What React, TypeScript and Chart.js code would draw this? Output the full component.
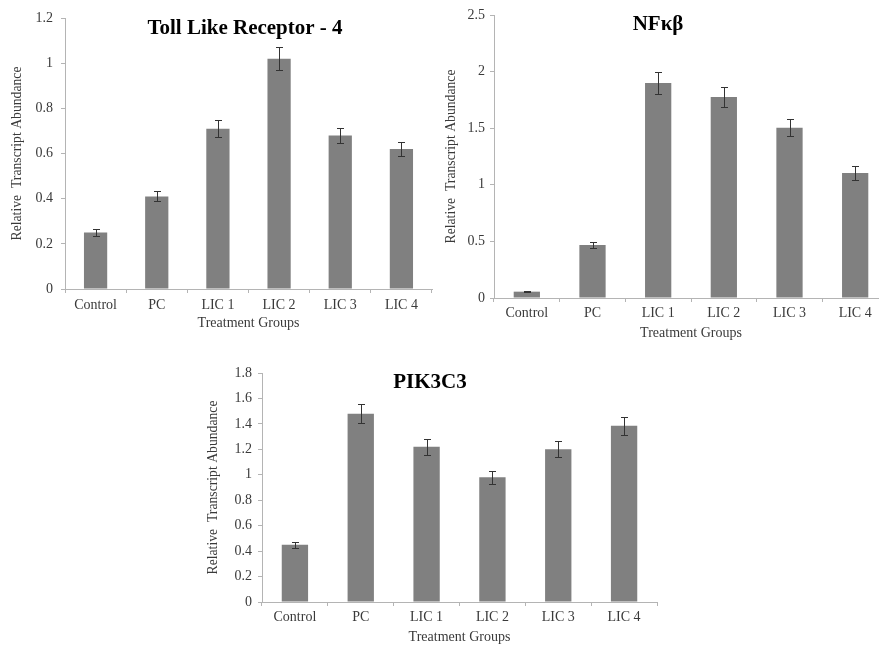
import React, { useEffect, useRef } from "react";
import { Chart, registerables } from "chart.js";

Chart.register(...registerables);

// ---------- data ----------
const categories = ["Control", "PC", "LIC 1", "LIC 2", "LIC 3", "LIC 4"];

const tlr4Values = [0.25, 0.41, 0.71, 1.02, 0.68, 0.62];
const tlr4Errors = [0.015, 0.022, 0.037, 0.05, 0.035, 0.031];
const tlr4Ticks = ["0", "0.2", "0.4", "0.6", "0.8", "1", "1.2"];

const nfkbValues = [0.056, 0.468, 1.9, 1.775, 1.505, 1.105];
const nfkbErrors = [0.005, 0.028, 0.1, 0.092, 0.077, 0.059];
const nfkbTicks = ["0", "0.5", "1", "1.5", "2", "2.5"];

const pikValues = [0.45, 1.48, 1.22, 0.98, 1.2, 1.385];
const pikErrors = [0.025, 0.073, 0.062, 0.05, 0.063, 0.073];
const pikTicks = ["0", "0.2", "0.4", "0.6", "0.8", "1", "1.2", "1.4", "1.6", "1.8"];

const titles = ["Toll Like Receptor - 4", "NF\u03BA\u03B2", "PIK3C3"];
const yAxisTitle = "Relative  Transcript Abundance";
const xAxisTitle = "Treatment Groups";

// ---------- styles ----------
const FONT = "'Liberation Serif', 'Times New Roman', serif";
const AXIS_COLOR = "#b4b4b4";
const TEXT_COLOR = "#3a3a3a";
const BAR_COLOR = "#808080";
const ERR_COLOR = "#333333";

const errorBarsPlugin = {
  id: "errorBars",
  afterDatasetsDraw(chart: any, _args: any, opts: any) {
    const errs: number[] = opts.errors || [];
    const meta = chart.getDatasetMeta(0);
    const ys = chart.scales.y;
    const vals = chart.data.datasets[0].data as number[];
    const ctx = chart.ctx;
    ctx.save();
    ctx.strokeStyle = opts.color || "#333";
    ctx.lineWidth = 1;
    const cap = opts.cap ?? 3.5;
    meta.data.forEach((bar: any, i: number) => {
      const v = vals[i];
      const e = errs[i];
      if (e == null) return;
      const x = Math.round(bar.x) + 0.5;
      const yt = Math.round(ys.getPixelForValue(v + e)) + 0.5;
      const yb = Math.round(ys.getPixelForValue(v - e)) + 0.5;
      ctx.beginPath();
      ctx.moveTo(x, yt);
      ctx.lineTo(x, yb);
      ctx.moveTo(x - cap, yt);
      ctx.lineTo(x + cap, yt);
      ctx.moveTo(x - cap, yb);
      ctx.lineTo(x + cap, yb);
      ctx.stroke();
    });
    ctx.restore();
  },
};

const overlayTitlePlugin = {
  id: "overlayTitle",
  afterDraw(chart: any, _args: any, opts: any) {
    if (!opts.text) return;
    const ctx = chart.ctx;
    ctx.save();
    ctx.font = `bold ${opts.size || 21}px ${FONT}`;
    ctx.fillStyle = "#000";
    ctx.textAlign = "center";
    ctx.textBaseline = "middle";
    ctx.fillText(opts.text, opts.x, opts.y);
    ctx.restore();
  },
};

type Cfg = {
  left: number;
  top: number;
  width: number;
  height: number;
  values: number[];
  errors: number[];
  ticks: string[];
  max: number;
  step: number;
  title: string;
  titleX: number;
  titleY: number;
  padTop: number;
  padRight: number;
  yWidth: number;
  xHeight: number;
  yTickPad: number;
  xTickPad: number;
  yTitlePad: number;
  xTitlePad: number;
  barPct: number;
};

function BarPanel({ cfg }: { cfg: Cfg }) {
  const ref = useRef<HTMLCanvasElement | null>(null);
  useEffect(() => {
    if (!ref.current) return;
    const chart = new Chart(ref.current, {
      type: "bar",
      data: {
        labels: categories,
        datasets: [
          {
            data: cfg.values,
            backgroundColor: BAR_COLOR,
            borderWidth: 0,
            categoryPercentage: 1,
            barPercentage: cfg.barPct,
          },
        ],
      },
      options: {
        responsive: false,
        animation: false,
        devicePixelRatio: 1,
        layout: { padding: { top: cfg.padTop, right: cfg.padRight, left: 0, bottom: 0 } },
        plugins: {
          legend: { display: false },
          tooltip: { enabled: false },
          title: { display: false },
          errorBars: { errors: cfg.errors, color: ERR_COLOR, cap: 3.5 },
          overlayTitle: { text: cfg.title, x: cfg.titleX, y: cfg.titleY, size: 21 },
        } as any,
        scales: {
          x: {
            grid: {
              display: true,
              drawOnChartArea: false,
              drawTicks: true,
              tickLength: 4,
              color: AXIS_COLOR,
              offset: true,
            },
            border: { display: true, color: AXIS_COLOR, width: 1 },
            ticks: {
              color: TEXT_COLOR,
              font: { family: FONT, size: 14 },
              padding: cfg.xTickPad,
              maxRotation: 0,
              autoSkip: false,
            },
            title: {
              display: true,
              text: xAxisTitle,
              color: TEXT_COLOR,
              font: { family: FONT, size: 14 },
              padding: { top: 0, bottom: cfg.xTitlePad },
            },
            afterFit: (s: any) => {
              s.height = cfg.xHeight;
            },
          },
          y: {
            min: 0,
            max: cfg.max,
            grid: {
              display: true,
              drawOnChartArea: false,
              drawTicks: true,
              tickLength: 4,
              color: AXIS_COLOR,
            },
            border: { display: true, color: AXIS_COLOR, width: 1 },
            ticks: {
              stepSize: cfg.step,
              color: TEXT_COLOR,
              font: { family: FONT, size: 14 },
              padding: cfg.yTickPad,
              callback: (_v: any, i: number) => cfg.ticks[i],
            },
            title: {
              display: true,
              text: yAxisTitle,
              color: TEXT_COLOR,
              font: { family: FONT, size: 13.7 },
              padding: { top: cfg.yTitlePad, bottom: 0 },
            },
            afterFit: (s: any) => {
              s.width = cfg.yWidth;
            },
          },
        },
      },
      plugins: [errorBarsPlugin, overlayTitlePlugin],
    } as any);
    return () => chart.destroy();
  }, [cfg]);
  return (
    <div
      style={{
        position: "absolute",
        left: cfg.left,
        top: cfg.top,
        width: cfg.width,
        height: cfg.height,
      }}
    >
      <canvas
        ref={ref}
        width={cfg.width}
        height={cfg.height}
        style={{ width: cfg.width, height: cfg.height, display: "block" }}
      />
    </div>
  );
}

const panels: Cfg[] = [
  {
    left: 0, top: 0, width: 440, height: 340,
    values: tlr4Values, errors: tlr4Errors, ticks: tlr4Ticks, max: 1.2, step: 0.2,
    title: titles[0], titleX: 245, titleY: 29,
    padTop: 18, padRight: 8, yWidth: 65, xHeight: 51,
    yTickPad: 8, xTickPad: 4, yTitlePad: 9, xTitlePad: 8.6, barPct: 0.38,
  },
  {
    left: 440, top: 0, width: 460, height: 345,
    values: nfkbValues, errors: nfkbErrors, ticks: nfkbTicks, max: 2.5, step: 0.5,
    title: titles[1], titleX: 218, titleY: 25,
    padTop: 15, padRight: 12, yWidth: 54, xHeight: 47,
    yTickPad: 5, xTickPad: 2.5, yTitlePad: 3.5, xTitlePad: 3.6, barPct: 0.4,
  },
  {
    left: 190, top: 350, width: 480, height: 296,
    values: pikValues, errors: pikErrors, ticks: pikTicks, max: 1.8, step: 0.2,
    title: titles[2], titleX: 240, titleY: 33,
    padTop: 23, padRight: 13, yWidth: 72, xHeight: 44,
    yTickPad: 6, xTickPad: 3, yTitlePad: 15, xTitlePad: 0.6, barPct: 0.4,
  },
];

export default function App() {
  return (
    <div
      style={{
        position: "absolute",
        left: 0,
        top: 0,
        width: 879,
        height: 646,
        overflow: "hidden",
        background: "#fff",
      }}
    >
      {panels.map((p, i) => (
        <BarPanel key={i} cfg={p} />
      ))}
    </div>
  );
}
